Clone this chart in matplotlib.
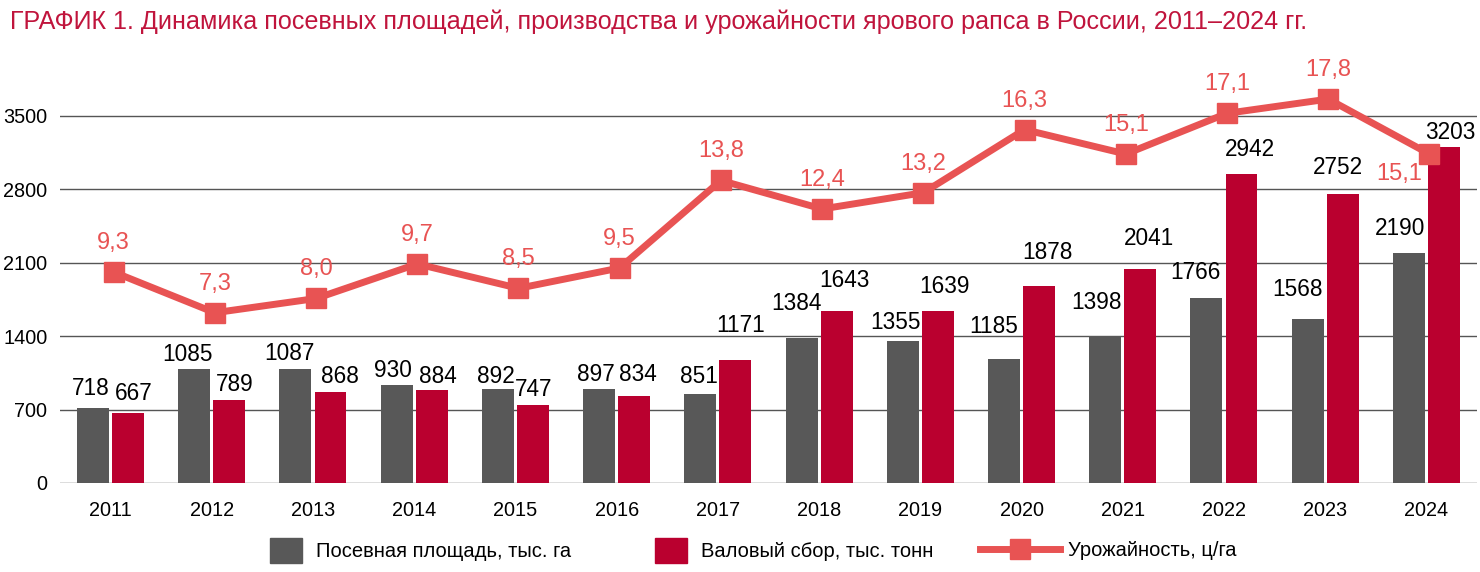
import matplotlib.pyplot as plt
import numpy as np
from matplotlib.patches import Patch
from matplotlib.lines import Line2D

years = ["2011", "2012", "2013", "2014", "2015", "2016", "2017",
         "2018", "2019", "2020", "2021", "2022", "2023", "2024"]
area = [718, 1085, 1087, 930, 892, 897, 851, 1384, 1355, 1185, 1398, 1766, 1568, 2190]
harvest = [667, 789, 868, 884, 747, 834, 1171, 1643, 1639, 1878, 2041, 2942, 2752, 3203]
yields = [9.3, 7.3, 8.0, 9.7, 8.5, 9.5, 13.8, 12.4, 13.2, 16.3, 15.1, 17.1, 17.8, 15.1]
yticks = [0, 700, 1400, 2100, 2800, 3500]

# label offsets in pixels (dx, dy above bar top), hand placed as in the source
area_off = [(-2, 19), (-7, 15), (-6, 15), (-4, 15), (-2, 13), (-3, 14), (-1, 17),
            (-5, 34), (-7, 18), (-10, 32), (-9, 34), (-11, 25), (-10, 29), (-9, 25)]
harv_off = [(6, 20), (5, 16), (9, 15), (6, 14), (1, 15), (4, 21), (5, 35),
            (8, 30), (7, 25), (8, 34), (9, 30), (8, 25), (-5, 27), (6, 15)]

GRAY = "#585858"
RED = "#ba002f"
CORAL = "#e85353"
TITLE = "#c0143c"
plt.rcParams["font.family"] = ["Liberation Sans", "DejaVu Sans"]

fig = plt.figure(figsize=(14.8, 5.72), dpi=100)
ax = fig.add_axes([0.0405, 0.1556, 0.9575, 0.706])

x = np.arange(len(years))
w = 0.316
off = 0.173
ymax = 3850
ax.bar(x - off, area, w, color=GRAY, zorder=2)
ax.bar(x + off, harvest, w, color=RED, zorder=2)
ax.set_xlim(-0.5, len(years) - 0.5)
ax.set_ylim(0, ymax)
ax.set_yticks(yticks)
ax.set_xticks(x)
ax.set_xticklabels(years)
ax.tick_params(length=0, labelsize=14.3, pad=13)
ax.tick_params(axis="y", pad=9)
ax.grid(axis="y", color="#555555", lw=1, zorder=0)
for s in ax.spines.values():
    s.set_visible(False)

px = 0.72  # pixels -> points
for i in range(len(years)):
    ax.annotate(str(area[i]), (x[i] - off, area[i]),
                xytext=(area_off[i][0] * px, area_off[i][1] * px),
                textcoords="offset points", ha="center", va="center",
                fontsize=16.3, color="black", zorder=5)
    ax.annotate(str(harvest[i]), (x[i] + off, harvest[i]),
                xytext=(harv_off[i][0] * px, harv_off[i][1] * px),
                textcoords="offset points", ha="center", va="center",
                fontsize=16.3, color="black", zorder=5)

# yield on a secondary scale: left = 207 + 194 * yield
a, b = 194.0, 207.0
ax2 = ax.twinx()
ax2.set_ylim((0 - b) / a, (ymax - b) / a)
ax2.axis("off")
ax2.plot(x + 0.03, yields, color=CORAL, lw=5, marker="s", ms=13.7, zorder=4)
for i, v in enumerate(yields):
    lbl = f"{v:.1f}".replace(".", ",")
    if i == len(yields) - 1:
        dx, dy = -30, -20
    else:
        dx, dy = 0, 29
    ax2.annotate(lbl, (x[i] + 0.03, v), xytext=(dx * px, dy * px),
                 textcoords="offset points", ha="center", va="center",
                 fontsize=17, color=CORAL)

fig.text(0.007, 0.962, "ГРАФИК 1. Динамика посевных площадей, производства и урожайности "
         "ярового рапса в России, 2011–2024 гг.", fontsize=18.1, color=TITLE,
         ha="left", va="center")

leg_font = {"size": 14.5}
fig.legend(handles=[Patch(color=GRAY, label="Посевная площадь, тыс. га")],
           loc="center left", bbox_to_anchor=(0.1825, 0.038), frameon=False,
           prop=leg_font, handlelength=1.6, handleheight=1.5, handletextpad=0.7,
           borderpad=0, borderaxespad=0)
fig.legend(handles=[Patch(color=RED, label="Валовый сбор, тыс. тонн")],
           loc="center left", bbox_to_anchor=(0.4425, 0.038), frameon=False,
           prop=leg_font, handlelength=1.6, handleheight=1.5, handletextpad=0.7,
           borderpad=0, borderaxespad=0)
fig.legend(handles=[Line2D([], [], color=CORAL, lw=5, marker="s", ms=13.7,
                           label="Урожайность, ц/га")],
           loc="center left", bbox_to_anchor=(0.662, 0.038), frameon=False,
           prop=leg_font, handlelength=4.0, handletextpad=0.4,
           borderpad=0, borderaxespad=0)

fig.savefig("out.png", dpi=100)
